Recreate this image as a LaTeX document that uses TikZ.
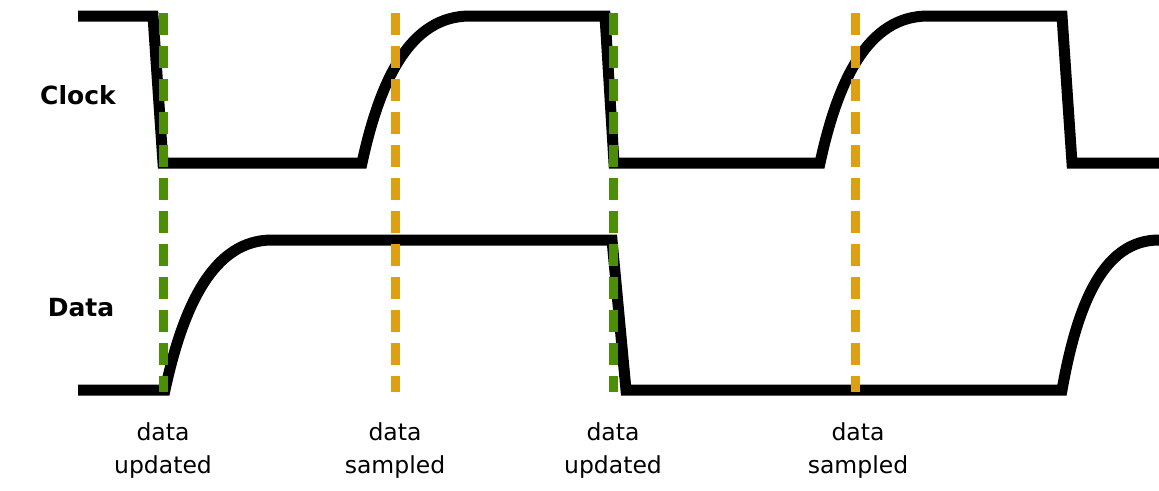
\documentclass[tikz,border=0pt]{standalone}
\usepackage{fontspec}
\setmainfont{DejaVu Sans}
\definecolor{updgreen}{RGB}{76,142,8}
\definecolor{smporange}{RGB}{221,160,20}
\tikzset{
  signal/.style={line width=11pt, black, line join=miter},
  updline/.style={line width=9pt, updgreen, dash pattern=on 22pt off 11pt},
  smpline/.style={line width=9pt, smporange, dash pattern=on 22pt off 11pt},
  signame/.style={font=\fontsize{25}{28}\selectfont\bfseries, anchor=center},
  evlabel/.style={font=\fontsize{23.5}{33}\selectfont, align=center, anchor=center}
}
\begin{document}
\begin{tikzpicture}[x=1pt,y=-1pt]
\useasboundingbox (0,0) rectangle (1159,490);
% Clock
\draw[signal] (78,16) -- (153,16) -- (163,163) -- (362,163)
  .. controls (380,80) and (410,16) .. (470,16) -- (605,16) -- (614,163) -- (820,163)
  .. controls (838,80) and (868,16) .. (928,16) -- (1062,16) -- (1072,163) -- (1159,163);
% Data
\draw[signal] (78,390) -- (165,390)
  .. controls (183,307) and (213,240) .. (272,240) -- (612,240) -- (626,390) -- (1062,390)
  .. controls (1078,300) and (1105,240) .. (1159,240);
% event lines
\coordinate (u1t) at (163,13); \coordinate (u1b) at (163,392);
\coordinate (s1t) at (395,13); \coordinate (s1b) at (395,392);
\coordinate (u2t) at (613,13); \coordinate (u2b) at (613,392);
\coordinate (s2t) at (855,13); \coordinate (s2b) at (855,392);
\draw[updline] (u1t) -- (u1b);
\draw[smpline] (s1t) -- (s1b);
\draw[updline] (u2t) -- (u2b);
\draw[smpline] (s2t) -- (s2b);
% names
\node[signame] (clk) at (78,95) {Clock};
\node[signame] (dat) at (81,308) {Data};
% labels
\node[evlabel] (l1) at (163,451) {data\\updated};
\node[evlabel] (l2) at (395,451) {data\\sampled};
\node[evlabel] (l3) at (613,451) {data\\updated};
\node[evlabel] (l4) at (858,451) {data\\sampled};
\end{tikzpicture}
\end{document}
